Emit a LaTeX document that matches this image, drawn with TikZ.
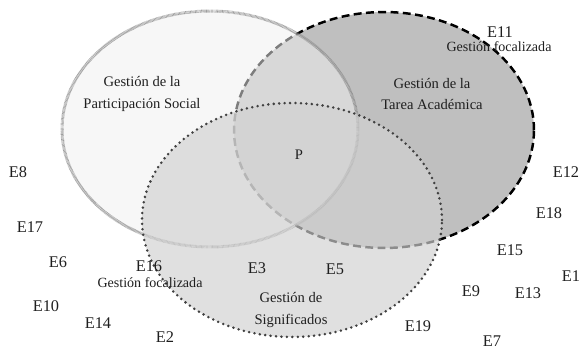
\documentclass[tikz,border=0pt]{standalone}
\usepackage{fontspec}
\setmainfont{Liberation Serif}
\usepackage{tikz}
\usetikzlibrary{calc}

\definecolor{tareafill}{gray}{0.75}
\definecolor{socialfill}{gray}{0.94}
\definecolor{signfill}{gray}{0.82}
\definecolor{textgray}{gray}{0.12}

\begin{document}
\begin{tikzpicture}[x=0.02cm, y=-0.02cm,
    every node/.style={text=textgray, inner sep=0pt},
    est/.style={font=\fontsize{9.3}{10}\selectfont},
    area/.style={font=\fontsize{8.3}{10}\selectfont, align=center},
    foc/.style={font=\fontsize{8}{9}\selectfont}]
      \useasboundingbox (0,0) rectangle (579,348);
      % the three areas
      \draw [fill=tareafill, line width=1.4pt, dash pattern=on 4.5pt off 2.5pt]
        (384,130) ellipse [x radius=3cm, y radius=2.36cm];
      \draw [fill=socialfill, fill opacity=0.52, draw opacity=0.75, draw=gray,
        line width=1.7pt, dash pattern=on 0.35pt off 0.35pt]
        (210,129) ellipse [x radius=2.96cm, y radius=2.36cm];
      \draw [fill=signfill, fill opacity=0.67, draw=black!75, line width=1.6pt,
        line cap=round, dash pattern=on 0pt off 3.1pt]
        (292,220) ellipse [x radius=3cm, y radius=2.34cm];
      % area names
      \node [area] (social) at (142,94) {Gestión de la\\[2.5pt]Participación Social};
      \node [area] (tarea) at (432,94) {Gestión de la\\[2.5pt]Tarea Académica};
      \node [area] (signif) at (291,310) {Gestión de\\[2.5pt]Significados};
      \node [area] (p) at (299,155) {P};
      % students
      \node [est] (e11) at (500,32) {E11};
      \node [foc] (foc1) at (499,47) {Gestión focalizada};
      \node [est] (e12) at (566,172) {E12};
      \node [est] (e8) at (18,172) {E8};
      \node [est] (e18) at (549,213) {E18};
      \node [est] (e17) at (30,227) {E17};
      \node [est] (e15) at (510,250) {E15};
      \node [est] (e6) at (58,262) {E6};
      \node [est] (e16) at (149,266) {E16};
      \node [foc] (foc2) at (150,283) {Gestión focalizada};
      \node [est] (e3) at (257,268) {E3};
      \node [est] (e5) at (335,269) {E5};
      \node [est] (e1) at (571,276) {E1};
      \node [est] (e9) at (471,291) {E9};
      \node [est] (e13) at (528,293) {E13};
      \node [est] (e10) at (46,306) {E10};
      \node [est] (e14) at (98,323) {E14};
      \node [est] (e19) at (418,326) {E19};
      \node [est] (e2) at (165,337) {E2};
      \node [est] (e7) at (492,341) {E7};
\end{tikzpicture}
\end{document}
